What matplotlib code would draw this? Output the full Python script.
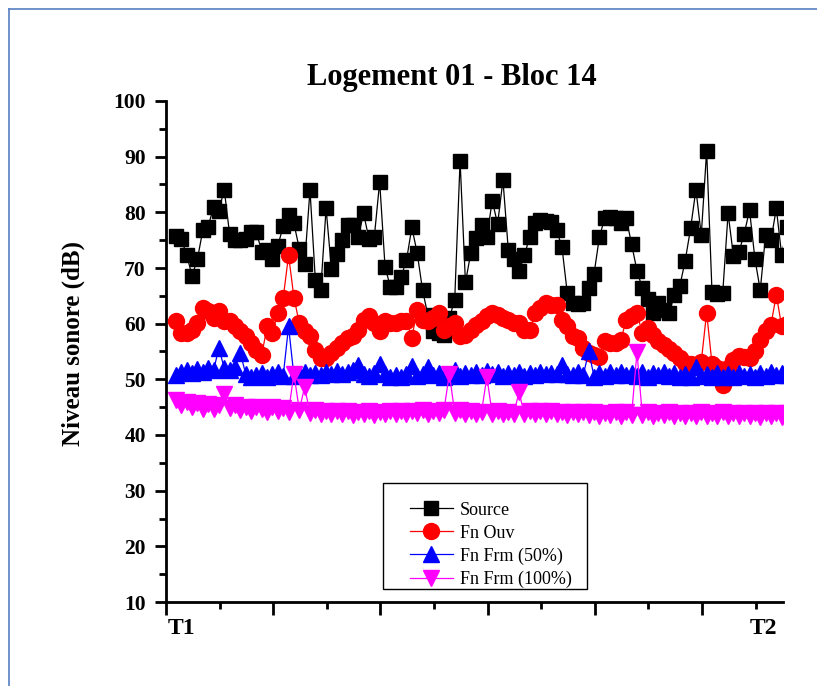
import numpy as np
import matplotlib
matplotlib.use("Agg")
import matplotlib.pyplot as plt
from matplotlib.lines import Line2D
from matplotlib.patches import Rectangle
from matplotlib.ticker import FixedLocator, NullFormatter
from matplotlib.legend_handler import HandlerLine2D

title = "Logement 01 - Bloc 14"
ylabel = "Niveau sonore (dB)"
series_names = ["Source", "Fn Ouv", "Fn Frm (50%)", "Fn Frm (100%)"]
xtick_labels = ["T1", "T2"]

source = [75.8, 75.2, 72.3, 68.6, 71.6, 76.8, 77.4, 81.0, 80.3, 84.1,
          76.1, 75.0, 75.0, 75.2, 76.4, 76.5, 72.9, 73.2, 71.7, 74.0,
          77.5, 79.5, 78.0, 73.5, 70.8, 84.0, 67.8, 66.0, 80.7, 69.8,
          72.6, 75.0, 77.7, 77.7, 75.6, 79.8, 75.2, 75.6, 85.5, 70.2,
          66.6, 66.6, 68.4, 71.4, 77.3, 72.7, 66.0, 61.5, 58.6, 58.3,
          58.0, 61.0, 64.3, 89.3, 67.4, 72.7, 75.3, 77.7, 75.6, 82.1,
          77.9, 85.8, 73.2, 71.7, 69.5, 72.3, 75.6, 78.0, 78.6, 78.5,
          78.3, 76.8, 73.8, 65.5, 63.7, 63.5, 63.7, 66.4, 69.0, 75.6,
          79.0, 79.2, 79.0, 78.0, 78.9, 74.3, 69.5, 66.4, 64.4, 61.9,
          63.7, 62.5, 61.9, 65.2, 66.8, 71.3, 77.1, 84.1, 75.9, 91.1,
          65.7, 65.3, 65.5, 79.8, 72.2, 72.8, 76.1, 80.4, 71.7, 66.0,
          75.9, 75.0, 80.7, 72.3, 77.3]

fn_ouv = [60.4, 58.3, 58.3, 58.9, 60.1, 62.8, 62.2, 61.0, 62.2, 60.4,
          60.4, 59.5, 58.6, 57.7, 56.5, 55.3, 54.4, 59.5, 58.3, 62.0,
          64.6, 72.3, 64.7, 60.1, 58.6, 57.7, 55.3, 53.8, 53.8, 54.7,
          55.6, 56.5, 57.4, 57.7, 58.9, 60.7, 61.3, 60.1, 58.6, 60.4,
          60.1, 60.2, 60.4, 60.4, 57.5, 62.5, 60.7, 60.4, 61.0, 61.9,
          58.9, 59.5, 60.1, 57.7, 58.0, 58.9, 59.8, 60.5, 61.3, 61.9,
          61.6, 61.0, 60.7, 60.1, 60.1, 58.9, 58.9, 61.9, 62.8, 63.8,
          63.4, 63.4, 60.7, 59.5, 57.7, 57.4, 55.6, 54.7, 54.4, 54.1,
          56.8, 56.6, 56.5, 57.1, 60.7, 61.3, 61.9, 58.3, 59.2, 58.0,
          56.8, 56.2, 55.4, 54.7, 53.8, 52.9, 52.7, 52.6, 53.2, 62.0,
          52.8, 52.0, 49.0, 52.0, 53.5, 54.2, 54.0, 53.8, 55.0, 57.1,
          58.6, 59.8, 65.2, 59.5, 60.0]

fn_frm50 = [50.8, 51.3, 51.6, 51.2, 51.8, 51.4, 52.0, 51.6, 55.6, 52.0,
            51.6, 52.3, 54.7, 51.0, 50.4, 50.7, 51.1, 50.5, 50.9, 51.3,
            50.6, 59.5, 50.6, 51.0, 51.4, 50.8, 51.2, 50.7, 51.4, 50.9,
            51.5, 51.0, 51.3, 51.7, 52.6, 51.0, 50.6, 51.2, 52.7, 51.0,
            50.4, 50.8, 50.4, 50.9, 52.4, 50.6, 51.0, 52.3, 50.7, 51.1,
            50.5, 51.0, 51.6, 50.6, 51.2, 50.7, 51.3, 50.8, 51.5, 50.9,
            51.4, 50.6, 51.2, 50.7, 51.3, 50.6, 51.1, 50.8, 51.4, 50.9,
            51.2, 51.0, 52.6, 51.0, 50.7, 51.3, 50.8, 55.0, 50.5, 51.2,
            50.6, 51.3, 50.7, 51.4, 50.8, 51.2, 50.6, 51.3, 50.5, 51.1,
            50.7, 51.4, 50.6, 51.2, 50.5, 51.0, 50.4, 52.3, 50.6, 51.0,
            50.4, 51.1, 50.5, 51.0, 50.4, 51.2, 50.6, 51.0, 50.5, 51.2,
            50.6, 51.3, 50.7, 51.2, 50.8]

fn_frm100 = [46.2, 45.3, 45.9, 45.1, 45.8, 44.7, 45.5, 44.6, 45.3, 47.4,
             44.8, 45.4, 44.5, 45.1, 44.3, 45.0, 44.6, 44.2, 45.0, 44.3,
             44.9, 44.2, 51.0, 44.5, 48.6, 43.9, 44.5, 43.8, 44.4, 43.7,
             44.3, 43.8, 44.4, 43.6, 44.2, 43.7, 44.3, 43.6, 44.2, 43.7,
             44.3, 43.8, 44.4, 43.7, 44.3, 44.0, 44.5, 43.8, 44.4, 44.0,
             44.5, 51.0, 44.0, 44.5, 43.8, 44.3, 43.7, 44.2, 50.4, 43.8,
             44.3, 43.7, 44.2, 43.8, 47.7, 43.7, 44.3, 43.8, 44.4, 43.7,
             44.3, 43.8, 44.2, 43.6, 44.1, 43.7, 44.2, 43.6, 44.1, 43.5,
             44.0, 43.6, 44.2, 43.5, 44.1, 43.6, 54.9, 43.6, 44.2, 43.5,
             44.0, 43.6, 44.2, 43.5, 44.0, 43.4, 44.0, 43.5, 44.1, 43.4,
             43.9, 43.5, 44.1, 43.4, 44.0, 43.5, 43.9, 43.4, 44.0, 43.3,
             43.9, 43.4, 44.0, 43.3, 43.9]

W, H, DPI = 817, 686, 100
fig = plt.figure(figsize=(W / DPI, H / DPI), dpi=DPI)
fig.patch.set_facecolor("white")

# page border (blue), clipped on right/bottom like the screenshot
fig.add_artist(Line2D([8.5 / W, 8.5 / W], [0, 1 - 8.5 / H], transform=fig.transFigure,
                      color="#5580c0", lw=1.2))
fig.add_artist(Line2D([8.5 / W, 1], [1 - 8.5 / H, 1 - 8.5 / H], transform=fig.transFigure,
                      color="#5580c0", lw=1.2))

ax_left, ax_right, ax_top, ax_bottom = 166, 783, 101, 602
ax = fig.add_axes([ax_left / W, 1 - ax_bottom / H, (ax_right - ax_left) / W, (ax_bottom - ax_top) / H])
ax.set_facecolor("white")

x = np.arange(len(source))
serif = ["Liberation Serif", "DejaVu Serif"]

ax.plot(x, source, color="black", lw=0.9, marker="s", ms=10, mfc="black", mec="black",
        label=series_names[0], zorder=3)
ax.plot(x, fn_ouv, color="#ff0000", lw=0.9, marker="o", ms=11.5, mfc="#ff0000", mec="#ff0000",
        label=series_names[1], zorder=4)
ax.plot(x, fn_frm50, color="#0000ff", lw=0.9, marker="^", ms=12, mfc="#0000ff", mec="#0000ff",
        label=series_names[2], zorder=5)
ax.plot(x, fn_frm100, color="#ff00ff", lw=0.9, marker="v", ms=12, mfc="#ff00ff", mec="#ff00ff",
        label=series_names[3], zorder=6)

step = 5.36  # pixels per point
x0 = (ax_left - 176) / step
x1 = (ax_right - 176) / step
ax.set_xlim(x0, x1)
ax.set_ylim(10, 100)

major_x = [x0 + 20 * k for k in range(6)]
minor_x = [x0 + 10 + 20 * k for k in range(6)]
ax.xaxis.set_major_locator(FixedLocator(major_x))
ax.xaxis.set_minor_locator(FixedLocator(minor_x))
ax.xaxis.set_major_formatter(NullFormatter())
ax.set_yticks(np.arange(10, 101, 10))
ax.set_yticks(np.arange(15, 100, 10), minor=True)

for s in ["top", "right"]:
    ax.spines[s].set_visible(False)
for s in ["left", "bottom"]:
    ax.spines[s].set_linewidth(2.0)

ax.tick_params(axis="both", which="major", direction="out", length=8, width=2.0)
ax.tick_params(axis="both", which="minor", direction="out", length=5, width=2.0)
ax.tick_params(axis="x", which="major", length=9)
ax.tick_params(axis="y", which="major", pad=6.5)
for lab in ax.get_yticklabels():
    lab.set_fontfamily(serif)
    lab.set_fontweight("bold")
    lab.set_fontsize(15.5)

# T1 / T2 labels along the time axis
xt = ax.get_xaxis_transform()
ax.text(x0 + 15 / step, -0.052, xtick_labels[0], transform=xt, ha="center", va="center",
        fontfamily=serif, fontweight="bold", fontsize=17)
ax.text(x0 + 110 + 8 / step, -0.052, xtick_labels[1], transform=xt, ha="center", va="center",
        fontfamily=serif, fontweight="bold", fontsize=17, clip_on=False)

fig.text(452 / W, 1 - 77 / H, title, ha="center", va="center",
         fontfamily=serif, fontweight="bold", fontsize=22)
fig.text(73 / W, 1 - 343 / H, ylabel, ha="center", va="center", rotation=90,
         fontfamily=serif, fontweight="bold", fontsize=18)

PT = 72 / DPI  # points per pixel


class ShiftedHandler(HandlerLine2D):
    """Legend line handle drawn with an extra left offset (Origin-like layout)."""
    def __init__(self, shift_pt, line_pt, **kw):
        super().__init__(**kw)
        self.shift_pt = shift_pt
        self.line_pt = line_pt

    def create_artists(self, legend, orig_handle, xdescent, ydescent, width, height,
                       fontsize, trans):
        return super().create_artists(legend, orig_handle, xdescent - self.shift_pt,
                                       ydescent, self.line_pt, height, fontsize, trans)


# legend box (Origin-style, content sits low in the frame)
box = Rectangle((383 / W, 1 - 589 / H), (587 - 383) / W, (589 - 483) / H,
                transform=fig.transFigure, facecolor="white", edgecolor="black",
                lw=1.0, zorder=9, clip_on=False)
ax.add_patch(box)

handles, labels = ax.get_legend_handles_labels()
fs = 13
hm = {h: ShiftedHandler(shift_pt=17 * PT, line_pt=43 * PT) for h in handles}
leg = ax.legend(handles, labels, handler_map=hm,
                loc="lower left", bbox_to_anchor=((383 - ax_left) / (ax_right - ax_left),
                                                  (ax_bottom - 598) / (ax_bottom - ax_top)),
                borderaxespad=0, prop={"family": serif, "size": fs},
                frameon=False, handlelength=(17 + 43) * PT / fs, handletextpad=0.4,
                borderpad=0.55, labelspacing=0.33, numpoints=1)
leg.set_zorder(10)

fig.savefig("out.png", dpi=DPI, facecolor="white")
